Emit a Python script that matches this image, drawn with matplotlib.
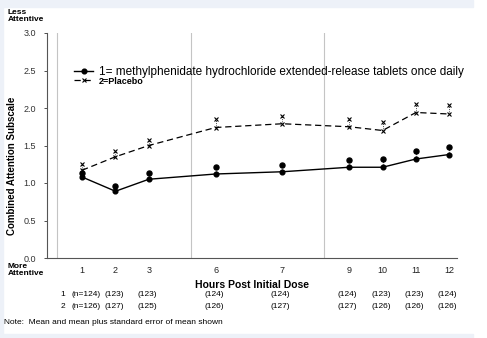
import matplotlib.pyplot as plt
from matplotlib.patches import Rectangle
from matplotlib.transforms import blended_transform_factory

plt.rcParams['font.family'] = ['Liberation Sans', 'DejaVu Sans']

# hours after dose and where each one sits on the axis (uneven spacing)
hours = ['1', '2', '3', '6', '7', '9', '10', '11', '12']
xpos = [0, 1, 2, 4, 6, 8, 9, 10, 11]

drug_mean = [1.08, 0.89, 1.05, 1.12, 1.15, 1.21, 1.21, 1.32, 1.38]
drug_se = [1.14, 0.96, 1.14, 1.22, 1.24, 1.31, 1.32, 1.43, 1.48]
placebo_mean = [1.17, 1.35, 1.50, 1.74, 1.79, 1.75, 1.70, 1.94, 1.92]
placebo_se = [1.25, 1.43, 1.58, 1.85, 1.90, 1.85, 1.81, 2.06, 2.04]

n_drug = ['(n=124)', '(123)', '(123)', '(124)', '(124)', '(124)', '(123)', '(123)', '(124)']
n_placebo = ['(n=126)', '(127)', '(125)', '(126)', '(127)', '(127)', '(126)', '(126)', '(126)']

section_lines = [-0.75, 3.25, 7.25]

fig = plt.figure(figsize=(4.87, 3.38), dpi=100)

# pale frame strips around the page
band = '#edf1f8'
fig.patches.append(Rectangle((0, 1 - 7 / 338), 473 / 487, 7 / 338, transform=fig.transFigure,
                             color=band, zorder=0))
fig.patches.append(Rectangle((0, 0), 473 / 487, 4 / 338, transform=fig.transFigure,
                             color=band, zorder=0))
fig.patches.append(Rectangle((0, 0), 3 / 487, 1, transform=fig.transFigure,
                             color=band, zorder=0))

ax = fig.add_axes([47 / 487, 1 - 258 / 338, 410 / 487, 225 / 338])

for xl in section_lines:
    ax.axvline(xl, color='#c4c4c4', lw=0.8, zorder=0)

l1, = ax.plot(xpos, drug_mean, '-', color='black', lw=1.0, marker='o', ms=3.4)
ax.plot(xpos, drug_se, 'o', color='black', ms=3.6)
ax.vlines(xpos, drug_mean, drug_se, color='black', lw=0.6, linestyles=':')

l2, = ax.plot(xpos, placebo_mean, '--', color='black', lw=0.9, marker='x', ms=3.2,
              dashes=(5, 3), mew=0.8)
ax.plot(xpos, placebo_se, 'x', color='black', ms=3.2, mew=0.8)
ax.vlines(xpos, placebo_mean, placebo_se, color='black', lw=0.6, linestyles=':')

ax.set_xlim(-1.05, 11.23)
ax.set_ylim(0, 3.0)
ax.set_yticks([0, 0.5, 1.0, 1.5, 2.0, 2.5, 3.0])
ax.set_yticklabels(['0.0', '0.5', '1.0', '1.5', '2.0', '2.5', '3.0'])
ax.set_xticks(xpos)
ax.set_xticklabels(hours)
ax.tick_params(axis='y', length=2, width=0.6, labelsize=6.5, pad=6, colors='#333333')
ax.tick_params(axis='x', length=0, labelsize=6.5, pad=6, colors='#222222')
for side in ['top', 'right']:
    ax.spines[side].set_visible(False)
for side in ['left', 'bottom']:
    ax.spines[side].set_color('#555555')
    ax.spines[side].set_linewidth(0.8)

ax.set_ylabel('Combined Attention Subscale', fontsize=7, fontweight='bold',
              va='center', ha='center')
ax.yaxis.set_label_coords(-0.085, 0.41)
ax.set_xlabel('Hours Post Initial Dose', fontsize=7.5, fontweight='bold')
ax.xaxis.set_label_coords(0.5, -0.098)

leg = ax.legend([l1, l2],
                ['1= methylphenidate hydrochloride extended-release tablets once daily',
                 '2=Placebo'],
                loc='upper left', bbox_to_anchor=(0.055, 0.875), frameon=False,
                handlelength=1.6, handletextpad=0.5, labelspacing=-0.2,
                borderaxespad=0, fontsize=8.5)
leg.get_texts()[1].set_fontsize(6.5)
leg.get_texts()[1].set_fontweight('bold')

# corner labels for the scale direction
fig.text(8 / 487, 1 - 9 / 338, 'Less\nAttentive', fontsize=6, fontweight='bold',
         va='top', ha='left', linespacing=0.95)
fig.text(8 / 487, 1 - 263 / 338, 'More\nAttentive', fontsize=6, fontweight='bold',
         va='top', ha='left', linespacing=0.95)

# sample sizes under each hour
tr = blended_transform_factory(ax.transData, fig.transFigure)
row1 = 1 - 295 / 338
row2 = 1 - 306 / 338
for x, a, b in zip(xpos, n_drug, n_placebo):
    xd = x + 0.12 if x == 0 else x - 0.05
    ax.text(xd, row1, a, transform=tr, ha='center', va='center', fontsize=6)
    ax.text(xd, row2, b, transform=tr, ha='center', va='center', fontsize=6)
ax.text(-0.57, row1, '1', transform=tr, ha='center', va='center', fontsize=6)
ax.text(-0.57, row2, '2', transform=tr, ha='center', va='center', fontsize=6)

fig.text(4 / 487, 1 - 323 / 338, 'Note:  Mean and mean plus standard error of mean shown',
         fontsize=6, ha='left', va='center')

fig.savefig('out.png', dpi=100)
